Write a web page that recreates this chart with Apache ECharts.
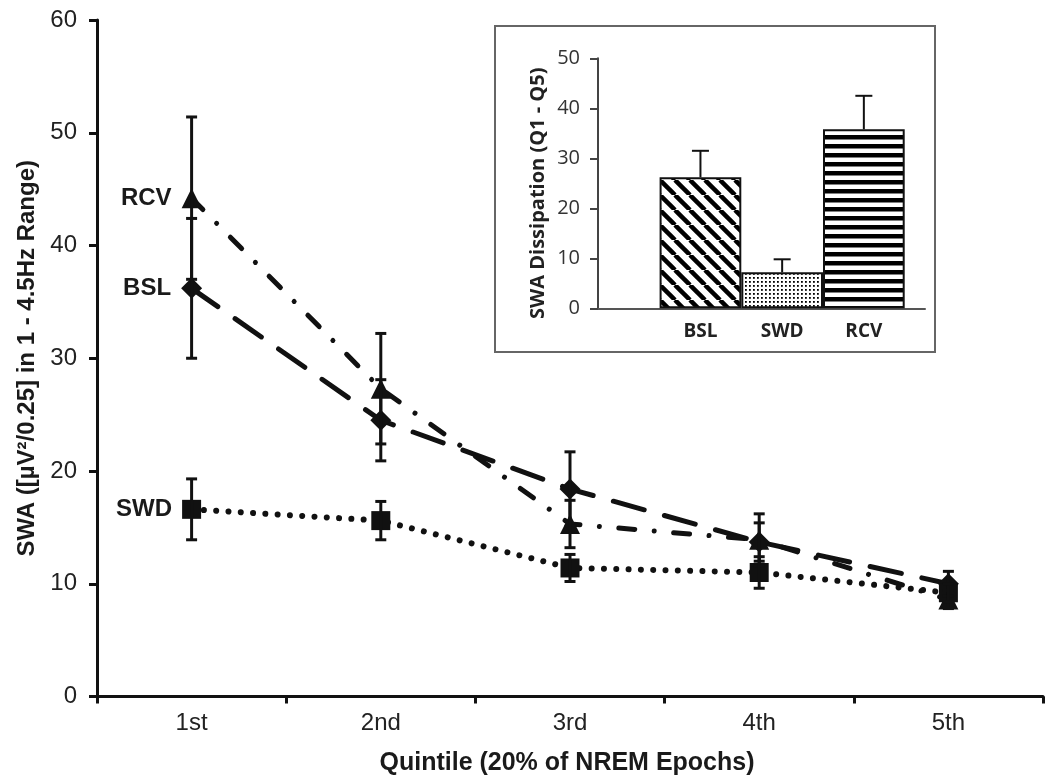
<!DOCTYPE html>
<html><head><meta charset="utf-8">
<script src="https://cdn.jsdelivr.net/npm/echarts@6/dist/echarts.min.js"></script>
<style>html,body{margin:0;padding:0;background:#fff}#c{width:1050px;height:784px}</style>
</head><body><div id="c"></div>
<script>
// ---- main chart data ----
const categories = ['1st', '2nd', '3rd', '4th', '5th'];
const yTicks = [0, 10, 20, 30, 40, 50, 60];
const bslMean = [36.2, 24.5, 18.4, 13.7, 10.0];
const bslErr  = [6.2, 3.6, 3.3, 1.7, 1.1];
const rcvMean = [44.2, 27.3, 15.3, 13.9, 8.6];
const rcvErr  = [7.2, 4.9, 2.1, 2.3, 0.8];
const swdMean = [16.6, 15.6, 11.4, 11.0, 9.2];
const swdErr  = [2.7, 1.7, 1.2, 1.4, 0.8];
// ---- inset data ----
const insetCategories = ['BSL', 'SWD', 'RCV'];
const insetTicks = [0, 10, 20, 30, 40, 50];
const insetMean = [26.2, 7.2, 35.8];
const insetErr  = [5.3, 2.6, 6.7];

const INK = '#111';

function makePattern(kind) {
  const c = document.createElement('canvas');
  const ctx = c.getContext('2d');
  if (kind === 'diag') {
    const s = 15; c.width = s; c.height = s;
    ctx.fillStyle = '#fff'; ctx.fillRect(0, 0, s, s);
    ctx.strokeStyle = '#000'; ctx.lineWidth = 4.5;
    [-s, 0, s].forEach(function (x0) {
      ctx.beginPath(); ctx.moveTo(x0, 0); ctx.lineTo(x0 + s, s); ctx.stroke();
    });
  } else if (kind === 'dots') {
    const s = 4; c.width = s; c.height = s;
    ctx.fillStyle = '#fff'; ctx.fillRect(0, 0, s, s);
    ctx.fillStyle = '#000'; ctx.fillRect(1, 1, 1.8, 1.8);
  } else {
    const s = 9; c.width = s; c.height = s;
    ctx.fillStyle = '#fff'; ctx.fillRect(0, 0, s, s);
    ctx.fillStyle = '#000'; ctx.fillRect(0, 0, s, 4.5);
  }
  return { image: c, repeat: 'repeat' };
}
const patterns = [makePattern('diag'), makePattern('dots'), makePattern('hstripe')];

function errRender(halfCap, lw, upOnly) {
  return function (params, api) {
    const x = api.value(0), lo = api.value(1), hi = api.value(2);
    const pHi = api.coord([x, hi]);
    const pLo = api.coord([x, lo]);
    const st = { stroke: INK, lineWidth: lw, fill: null };
    const ch = [
      { type: 'line', shape: { x1: pHi[0], y1: pHi[1], x2: pLo[0], y2: pLo[1] }, style: st },
      { type: 'line', shape: { x1: pHi[0] - halfCap, y1: pHi[1], x2: pHi[0] + halfCap, y2: pHi[1] }, style: st }
    ];
    if (!upOnly) ch.push({ type: 'line', shape: { x1: pLo[0] - halfCap, y1: pLo[1], x2: pLo[0] + halfCap, y2: pLo[1] }, style: st });
    return { type: 'group', children: ch };
  };
}

function lineSeries(name, mean, symbol, size, dash, width) {
  return {
    type: 'line', name: name, xAxisIndex: 0, yAxisIndex: 0, z: 3,
    data: mean.map(function (v, i) {
      return i === 0 ? { value: v, label: { show: true } } : v;
    }),
    symbol: symbol, symbolSize: size,
    itemStyle: { color: INK },
    lineStyle: { color: INK, width: width, type: dash, cap: 'round' },
    label: {
      show: false, position: 'left', distance: 10, formatter: name,
      fontFamily: 'Liberation Sans', fontWeight: 'bold', fontSize: 24, color: '#1a1a1a'
    },
    animation: false
  };
}
function errSeries(mean, err) {
  return {
    type: 'custom', xAxisIndex: 0, yAxisIndex: 0, z: 4,
    renderItem: errRender(5.5, 3, false),
    encode: { x: 0, y: [1, 2] },
    data: mean.map(function (m, i) { return [i, m - err[i], m + err[i]]; }),
    animation: false
  };
}

const chart = echarts.init(document.getElementById('c'), null, { renderer: 'canvas' });
chart.setOption({
  backgroundColor: '#fff',
  animation: false,
  grid: [
    { left: 97, right: 7, top: 20, bottom: 87.5, containLabel: false, outerBoundsMode: 'none' },
    { left: 659.6, right: 145.3, top: 58.3, bottom: 475.7, containLabel: false, outerBoundsMode: 'none' },
    { left: 598, right: 125, top: 58.3, bottom: 475.7, containLabel: false, outerBoundsMode: 'none' }
  ],
  xAxis: [
    {
      type: 'category', gridIndex: 0, data: categories, boundaryGap: true,
      axisLine: { show: true, lineStyle: { color: INK, width: 3 } },
      axisTick: { show: true, length: 7, lineStyle: { color: INK, width: 3 } },
      axisLabel: { fontFamily: 'Liberation Sans', fontSize: 24, color: '#222', margin: 15 },
      splitLine: { show: false },
      name: 'Quintile (20% of NREM Epochs)', nameLocation: 'middle', nameGap: 54,
      nameTextStyle: { fontFamily: 'Liberation Sans', fontWeight: 'bold', fontSize: 25, color: '#1a1a1a', padding: [0, 6, 0, 0] }
    },
    {
      type: 'category', gridIndex: 1, data: insetCategories, boundaryGap: true,
      axisLine: { show: false }, axisTick: { show: false },
      axisLabel: { fontFamily: 'Open Sans', fontWeight: 'bold', fontSize: 19, color: '#222', margin: 14 },
      splitLine: { show: false }
    },
    {
      type: 'value', gridIndex: 2, min: 0, max: 1,
      axisLine: { show: true, onZero: false, lineStyle: { color: '#555', width: 2 } },
      axisTick: { show: false }, axisLabel: { show: false }, splitLine: { show: false }
    }
  ],
  yAxis: [
    {
      type: 'value', gridIndex: 0, min: yTicks[0], max: yTicks[yTicks.length - 1], interval: 10,
      axisLine: { show: true, lineStyle: { color: INK, width: 3 } },
      axisTick: { show: true, length: 8, lineStyle: { color: INK, width: 3 } },
      axisLabel: { fontFamily: 'Liberation Sans', fontSize: 24, color: '#222', margin: 20 },
      splitLine: { show: false },
      name: 'SWA ([µV²/0.25] in 1 - 4.5Hz Range)', nameLocation: 'middle', nameGap: 52, nameRotate: 90,
      nameTextStyle: { fontFamily: 'Liberation Sans', fontWeight: 'bold', fontSize: 24, color: '#1a1a1a' }
    },
    {
      type: 'value', gridIndex: 1, min: insetTicks[0], max: insetTicks[insetTicks.length - 1], interval: 10,
      offset: 61.6,
      axisLine: { show: true, lineStyle: { color: '#444', width: 2 } },
      axisTick: { show: true, length: 8, lineStyle: { color: '#444', width: 2 } },
      axisLabel: { fontFamily: 'Open Sans', fontSize: 20, color: '#333', margin: 18 },
      splitLine: { show: false },
      name: 'SWA Dissipation (Q1 - Q5)', nameLocation: 'middle', nameGap: 50, nameRotate: 90,
      nameTextStyle: { fontFamily: 'Open Sans', fontWeight: 'bold', fontSize: 20, color: '#222', padding: [0, 20, 0, 0] }
    },
    { type: 'value', gridIndex: 2, min: 0, max: 50, show: false }
  ],
  graphic: [
    { type: 'rect', shape: { x: 495, y: 26, width: 440, height: 326 }, style: { fill: 'none', stroke: '#666', lineWidth: 2 }, z: 1 }
  ],
  series: [
    lineSeries('BSL', bslMean, 'diamond', 21, [32, 21], 5),
    lineSeries('RCV', rcvMean, 'triangle', 20, [16, 19.5, 0.01, 19.5], 5),
    lineSeries('SWD', swdMean, 'rect', 19, [0.01, 12.3], 6),
    errSeries(bslMean, bslErr),
    errSeries(rcvMean, rcvErr),
    errSeries(swdMean, swdErr),
    {
      type: 'bar', xAxisIndex: 1, yAxisIndex: 1, barWidth: '100%', barGap: '0%', z: 2,
      data: insetMean.map(function (v, i) {
        return { value: v, itemStyle: { color: patterns[i], borderColor: INK, borderWidth: 2 } };
      }),
      animation: false
    },
    {
      type: 'custom', xAxisIndex: 1, yAxisIndex: 1, z: 1,
      renderItem: errRender(8.5, 2, true),
      encode: { x: 0, y: [1, 2] },
      data: insetMean.map(function (m, i) { return [i, m, m + insetErr[i]]; }),
      animation: false
    }
  ]
});
</script>
</body></html>
